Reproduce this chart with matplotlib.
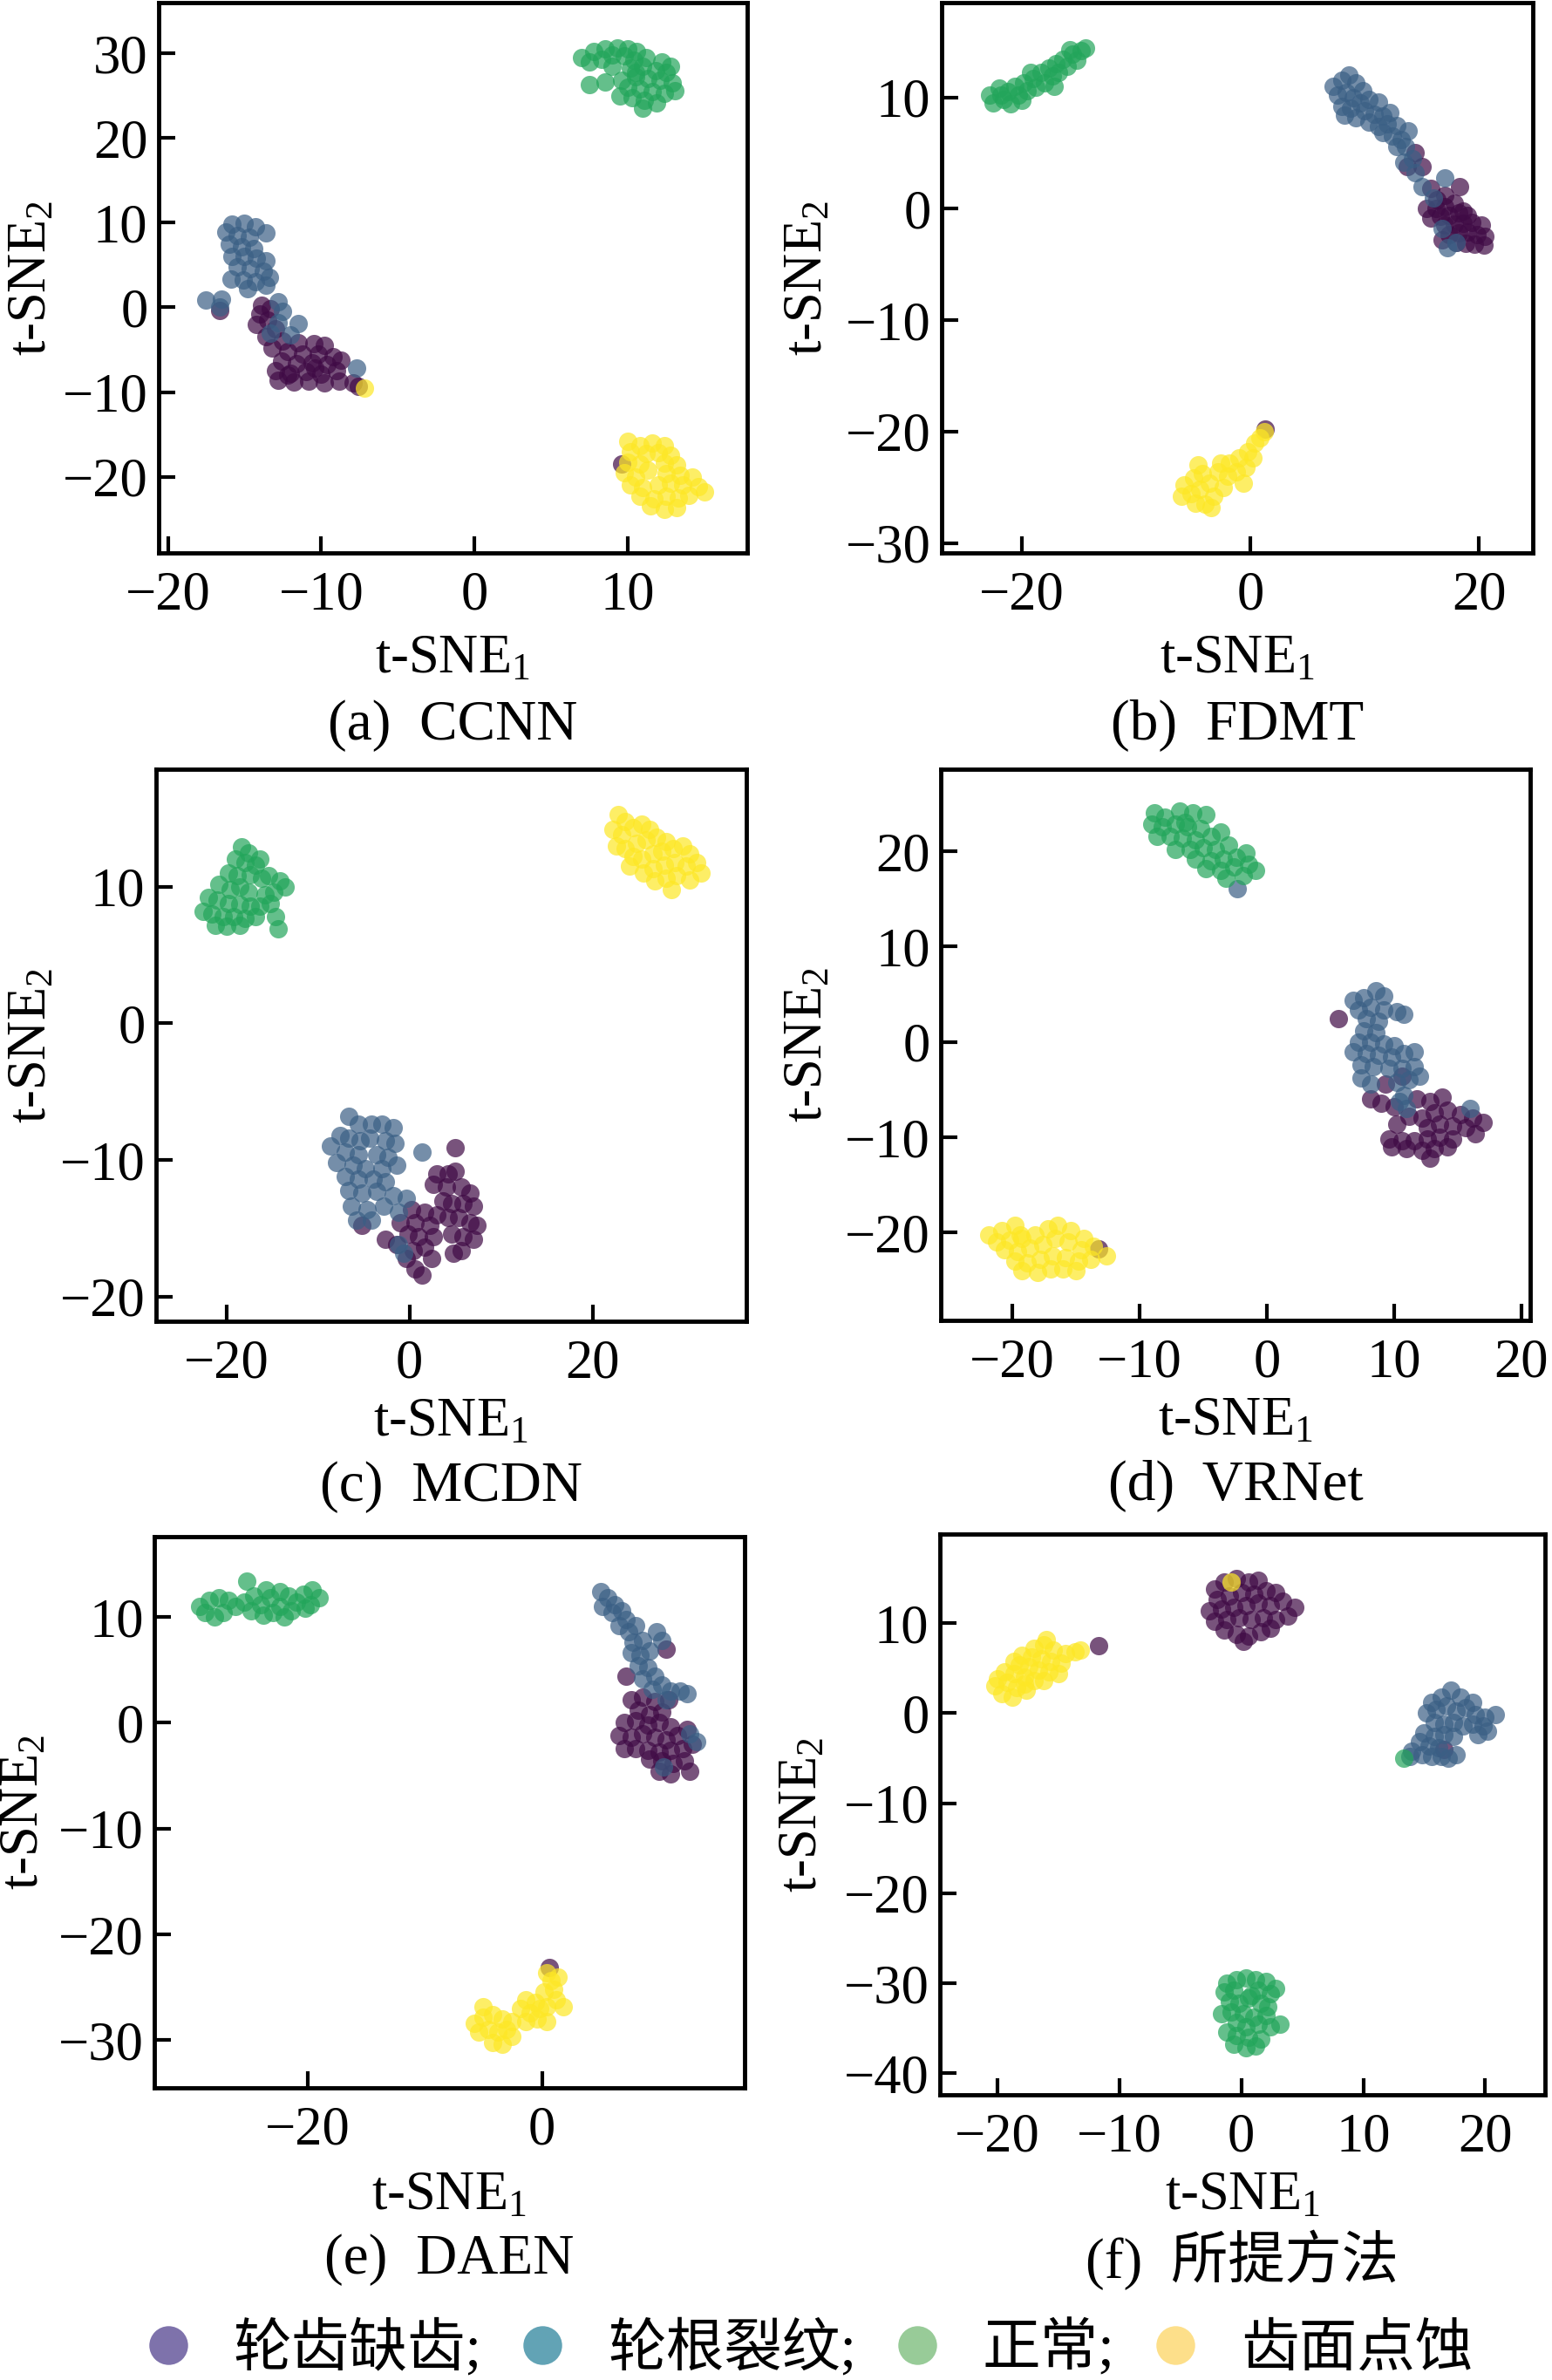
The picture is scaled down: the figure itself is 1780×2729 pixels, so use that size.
import numpy as np
import matplotlib
matplotlib.use('Agg')
import matplotlib.pyplot as plt
from matplotlib.lines import Line2D

# === Fonts: Times-like serif for latin text, CJK fallback for the Chinese labels ===
plt.rcParams['font.family'] = ['Liberation Serif', 'Noto Sans CJK SC']
plt.rcParams['mathtext.fontset'] = 'custom'
plt.rcParams['mathtext.rm'] = 'Liberation Serif'
plt.rcParams['mathtext.it'] = 'Liberation Serif:italic'

# === Class names and colours ===
class_names = ['轮齿缺齿;', '轮根裂纹;', '正常;', '齿面点蚀']
class_colors = ['#3f0a45', '#3a5f85', '#22a55a', '#fde725']
legend_colors = ['#7e72ab', '#62a3b5', '#98cb98', '#fddf8a']

# === t-SNE embeddings (x, y) ===
# (a) CCNN
CCNN_MISSING = [(-13.9, 0.3), (-13.3, -0.2), (-14.0, -0.8), (-13.5, -1.5), (-14.2, -2.0), (-13.0, -2.5),
                (-13.6, -3.5), (-12.5, -4.0), (-11.5, -4.2), (-10.5, -4.3), (-9.8, -4.5), (-13.2, -4.8),
                (-12.2, -5.2), (-11.2, -5.5), (-10.2, -5.5), (-9.2, -5.8), (-12.6, -6.3), (-11.6, -6.6),
                (-10.6, -6.5), (-9.6, -6.8), (-8.7, -6.2), (-13.0, -7.5), (-12.0, -7.8), (-11.0, -7.6),
                (-10.0, -7.9), (-9.0, -7.5), (-12.8, -8.6), (-11.8, -8.8), (-10.8, -8.7), (-9.8, -8.9),
                (-8.8, -8.7), (-12.2, -8.0), (-10.4, -7.2), (-7.9, -8.9), (-7.6, -9.3), (-16.6, -0.4),
                (9.6, -18.5)]
CCNN_CRACK = [(-15.8, 9.8), (-15.0, 9.9), (-14.3, 9.5), (-13.6, 8.8), (-16.2, 8.9), (-15.5, 8.5),
              (-14.7, 8.3), (-16.0, 7.5), (-15.2, 7.2), (-14.4, 7.0), (-15.8, 6.0), (-15.0, 6.0),
              (-14.2, 5.8), (-13.6, 5.5), (-15.5, 4.8), (-14.6, 4.6), (-13.8, 4.3), (-13.4, 3.5),
              (-15.9, 3.3), (-15.1, 3.2), (-14.3, 3.0), (-13.6, 2.6), (-14.8, 2.2), (-17.5, 0.9),
              (-16.5, 1.0), (-16.6, 0.1), (-12.8, 0.7), (-12.5, -0.5), (-11.5, -1.9), (-12.8, -1.8),
              (-13.3, -3.0), (-7.7, -7.2), (-12.0, -3.2)]
CCNN_NORMAL = [(7.0, 29.5), (7.8, 30.2), (8.5, 30.5), (9.3, 30.6), (10.0, 30.5), (10.6, 30.2), (11.2, 29.5),
               (7.5, 29.0), (8.3, 29.3), (9.0, 29.8), (9.8, 29.7), (10.4, 29.2), (12.2, 29.0), (10.2, 28.3),
               (11.0, 28.5), (11.8, 28.0), (12.5, 27.8), (10.5, 27.2), (11.3, 27.0), (12.1, 26.8), (12.9, 26.5),
               (10.0, 26.0), (10.8, 25.8), (11.6, 25.5), (12.4, 25.3), (13.1, 25.6), (9.5, 25.0), (10.3, 24.8),
               (11.1, 24.5), (11.9, 24.2), (11.0, 23.5), (10.5, 27.8), (9.6, 26.8), (12.8, 28.5),
               (7.5, 26.3), (8.5, 26.6), (9.0, 28.5)]
CCNN_PITTING = [(10.0, -15.8), (10.8, -16.3), (11.6, -16.0), (12.4, -16.3), (10.2, -17.0), (11.2, -17.3),
                (12.0, -17.2), (12.8, -17.5), (10.0, -18.3), (10.8, -18.5), (12.4, -18.4), (13.2, -18.6),
                (9.8, -19.5), (10.5, -20.0), (12.5, -19.6), (13.4, -19.8), (14.2, -20.0), (10.2, -21.0),
                (11.0, -21.3), (12.0, -21.0), (12.8, -20.8), (13.6, -21.0), (14.6, -21.2), (15.0, -21.8),
                (10.8, -22.3), (11.7, -22.6), (12.5, -22.3), (13.3, -22.5), (14.0, -22.2), (11.5, -23.4),
                (12.4, -23.8), (13.2, -23.6), (11.3, -19.2), (-7.2, -9.5)]

# (b) FDMT
FDMT_MISSING = [(14.4, 5.0), (13.7, 3.8), (15.0, 3.8), (18.3, 2.0), (15.8, 1.8), (16.3, 0.8), (17.0, 1.2),
                (15.4, 0.0), (16.2, 0.0), (17.0, 0.2), (17.8, 0.5), (15.8, -0.8), (16.6, -0.7), (17.4, -0.6),
                (18.2, -0.4), (19.0, -0.6), (17.0, -1.5), (17.8, -1.4), (18.6, -1.3), (19.4, -1.2), (20.2, -1.5),
                (17.4, -2.3), (18.2, -2.2), (19.0, -2.1), (19.8, -2.3), (20.5, -2.5), (18.0, -3.0), (18.8, -3.1),
                (19.6, -3.2), (20.4, -3.3), (16.8, -2.8), (18.6, -0.2), (1.3, -19.8)]
FDMT_CRACK = [(7.2, 11.0), (8.0, 11.5), (8.6, 12.0), (9.2, 11.3), (7.6, 10.2), (8.4, 10.4), (9.0, 10.0),
              (8.0, 9.2), (8.8, 9.0), (9.6, 9.5), (10.4, 9.8), (11.2, 9.6), (10.0, 8.8), (10.8, 8.5),
              (11.6, 8.3), (9.2, 8.2), (10.4, 7.8), (11.2, 7.4), (12.0, 7.6), (12.8, 7.5), (11.6, 6.8),
              (12.4, 6.5), (13.2, 6.2), (13.8, 7.0), (12.8, 5.6), (13.6, 5.6), (14.2, 4.5), (13.4, 4.2),
              (14.4, 3.2), (15.0, 2.0), (17.0, 2.8), (16.0, 1.0), (17.2, -3.5), (16.8, -1.8), (18.0, -3.0),
              (8.2, 8.4), (9.8, 10.6), (12.2, 8.6)]
FDMT_NORMAL = [(-22.8, 10.2), (-22.5, 9.5), (-22.0, 10.8), (-21.6, 9.8), (-21.2, 10.5), (-21.0, 9.4),
               (-20.6, 11.0), (-20.3, 10.2), (-19.8, 11.3), (-19.5, 10.6), (-19.0, 11.7), (-18.8, 10.9),
               (-18.3, 12.2), (-18.0, 11.3), (-17.6, 12.6), (-17.3, 11.9), (-17.0, 13.0), (-16.8, 12.2),
               (-16.4, 13.4), (-16.0, 12.8), (-15.6, 13.9), (-15.2, 13.3), (-14.8, 14.2), (-14.4, 14.4),
               (-15.8, 14.3), (-20.0, 9.7), (-17.2, 11.0), (-21.8, 10.2), (-19.2, 12.2)]
FDMT_PITTING = [(-5.8, -24.8), (-5.0, -24.2), (-4.2, -23.8), (-6.0, -25.8), (-5.2, -25.6), (-4.4, -25.2),
                (-3.6, -24.6), (-4.8, -26.4), (-4.0, -26.5), (-3.2, -25.8), (-2.4, -25.0), (-2.8, -23.6),
                (-2.0, -24.0), (-1.2, -23.6), (-1.8, -22.8), (-1.0, -22.4), (-0.4, -23.2), (-0.2, -21.8),
                (0.4, -21.0), (0.8, -20.6), (1.2, -20.0), (-2.6, -22.8), (-4.6, -23.0), (-3.4, -26.8),
                (-0.6, -24.6), (0.2, -22.4)]

# (c) MCDN
MCDN_MISSING = [(5.0, -9.1), (3.0, -11.0), (4.2, -11.0), (5.0, -10.8), (2.6, -11.8), (4.0, -12.0), (5.6, -12.0),
                (6.6, -12.4), (3.6, -13.0), (4.6, -13.2), (5.8, -13.2), (7.0, -13.4), (3.0, -14.0), (4.2, -14.2),
                (5.4, -14.2), (6.6, -14.6), (7.4, -14.8), (4.6, -15.4), (5.8, -15.6), (7.0, -15.8), (4.8, -16.8),
                (5.6, -16.6), (0.2, -13.6), (1.6, -13.8), (-1.0, -14.6), (0.6, -14.6), (2.2, -14.8),
                (-0.2, -15.4), (1.0, -15.6), (2.6, -15.6), (-2.6, -15.8), (-1.4, -16.2), (0.4, -16.6),
                (1.6, -16.4), (-0.4, -17.2), (2.4, -17.2), (0.6, -18.0), (1.4, -18.4), (-5.2, -14.8)]
MCDN_CRACK = [(-6.6, -6.8), (-5.6, -7.4), (-4.2, -7.4), (-3.0, -7.4), (-1.8, -7.6), (-7.6, -8.2), (-6.6, -8.4),
              (-5.4, -8.6), (-4.4, -8.4), (-2.6, -8.6), (-1.6, -8.8), (-8.6, -9.0), (-7.0, -9.4), (-5.6, -9.6),
              (-3.6, -9.6), (-2.4, -9.8), (1.4, -9.4), (-8.0, -10.2), (-6.2, -10.4), (-4.8, -10.6),
              (-3.0, -10.6), (-1.4, -10.4), (-7.0, -11.2), (-5.6, -11.4), (-4.0, -11.4), (-2.6, -11.6),
              (-6.6, -12.2), (-5.2, -12.4), (-3.6, -12.3), (-1.8, -12.6), (-0.4, -12.8), (-6.4, -13.4),
              (-4.6, -13.6), (-2.8, -13.4), (-1.2, -13.8), (-5.8, -14.4), (-4.2, -14.4), (-0.6, -16.8),
              (-1.2, -16.2)]
MCDN_NORMAL = [(-18.4, 12.9), (-17.6, 12.5), (-19.0, 12.0), (-18.0, 11.8), (-16.8, 11.6), (-19.8, 11.0),
               (-18.8, 10.8), (-17.4, 10.9), (-16.2, 10.6), (-15.4, 10.8), (-14.2, 10.4), (-13.6, 10.0),
               (-20.8, 10.2), (-19.6, 9.8), (-17.6, 9.6), (-15.8, 9.4), (-14.8, 9.6), (-22.0, 9.2),
               (-21.0, 9.0), (-19.8, 8.8), (-18.6, 8.7), (-17.4, 8.6), (-16.4, 8.6), (-15.2, 8.8),
               (-22.6, 8.2), (-21.6, 8.0), (-20.4, 7.8), (-19.2, 7.8), (-18.0, 7.7), (-16.8, 7.8),
               (-14.6, 7.8), (-21.2, 7.2), (-20.0, 7.1), (-18.6, 7.2), (-14.4, 6.9), (-18.6, 10.0),
               (-16.4, 12.0)]
MCDN_PITTING = [(22.8, 15.3), (23.6, 14.8), (22.2, 14.2), (23.2, 13.8), (24.4, 14.3), (25.4, 14.6), (26.2, 14.2),
                (22.6, 13.0), (23.6, 12.8), (24.8, 13.2), (25.8, 13.4), (27.0, 13.6), (28.0, 13.3), (24.4, 12.2),
                (25.4, 12.0), (26.6, 12.4), (27.6, 12.6), (28.8, 12.8), (29.8, 13.0), (30.6, 12.4), (25.6, 11.0),
                (26.6, 11.3), (27.8, 11.6), (29.0, 11.8), (30.2, 11.5), (31.4, 11.8), (31.8, 11.0), (26.8, 10.4),
                (28.0, 10.6), (29.2, 10.8), (30.6, 10.5), (28.6, 9.8), (24.0, 11.5)]

# (d) VRNet
VRNET_MISSING = [(5.6, 2.4), (9.3, -4.4), (10.6, -3.6), (8.2, -6.0), (9.0, -6.4), (10.0, -6.8), (11.8, -6.0),
                 (12.8, -6.2), (13.8, -5.8), (11.2, -7.8), (12.2, -8.0), (13.2, -7.4), (14.2, -7.2), (15.2, -7.6),
                 (16.2, -8.0), (17.0, -8.4), (10.2, -8.6), (12.6, -9.0), (13.6, -8.6), (14.6, -8.8), (15.6, -9.0),
                 (9.6, -10.2), (10.6, -10.4), (11.6, -10.4), (12.6, -10.2), (13.6, -10.0), (14.6, -10.2),
                 (9.8, -11.0), (11.0, -11.2), (12.2, -11.4), (13.2, -11.2), (14.2, -11.0), (12.8, -12.2),
                 (16.4, -9.6), (-13.2, -21.7)]
VRNET_CRACK = [(6.8, 4.4), (7.6, 4.6), (8.6, 5.4), (9.2, 4.8), (7.2, 3.4), (8.2, 3.6), (9.2, 3.4), (10.2, 3.2),
               (10.8, 2.9), (7.8, 2.4), (8.8, 2.2), (7.6, 1.2), (8.6, 1.0), (7.2, 0.0), (8.2, 0.0), (9.2, -0.2),
               (10.0, -0.4), (6.8, -1.0), (7.8, -1.2), (8.8, -1.4), (9.8, -1.6), (10.8, -1.2), (11.6, -1.0),
               (7.4, -2.4), (8.4, -2.6), (9.6, -2.8), (10.6, -2.8), (11.6, -2.6), (7.4, -3.8), (8.2, -4.4),
               (10.2, -4.2), (11.2, -4.0), (12.0, -3.6), (10.8, -5.6), (11.0, -7.0), (16.0, -7.0), (10.4, -6.2),
               (-2.3, 16.1)]
VRNET_NORMAL = [(-8.8, 24.0), (-8.0, 23.6), (-6.8, 24.2), (-5.8, 24.0), (-4.8, 23.8), (-9.0, 22.8), (-8.2, 22.6),
                (-7.2, 22.8), (-6.2, 22.6), (-5.2, 22.4), (-8.6, 21.6), (-7.6, 21.6), (-6.6, 21.4), (-5.6, 21.2),
                (-4.4, 21.6), (-3.6, 22.0), (-7.2, 20.2), (-6.0, 20.2), (-5.0, 20.4), (-4.0, 20.2), (-3.0, 20.6),
                (-5.6, 19.2), (-4.4, 19.0), (-3.4, 19.2), (-2.4, 19.4), (-1.6, 19.8), (-4.8, 18.2), (-3.6, 18.0),
                (-2.6, 18.4), (-1.4, 18.6), (-0.9, 18.0), (-3.2, 17.2), (-1.8, 17.4), (-6.4, 23.0)]
VRNET_PITTING = [(-21.8, -20.2), (-20.8, -19.8), (-19.8, -19.2), (-21.2, -21.0), (-20.2, -20.8), (-19.2, -20.6),
                 (-18.2, -20.2), (-17.2, -19.6), (-16.4, -19.2), (-15.4, -19.8), (-14.4, -20.6), (-20.6, -21.8),
                 (-19.6, -22.0), (-18.6, -21.6), (-17.6, -21.2), (-16.6, -20.6), (-15.6, -21.0), (-14.6, -21.8),
                 (-13.6, -21.4), (-12.6, -22.4), (-19.8, -23.0), (-18.8, -23.2), (-17.8, -22.8), (-16.8, -22.4),
                 (-15.8, -22.6), (-14.8, -23.0), (-13.8, -22.8), (-19.2, -24.0), (-18.0, -24.2), (-17.0, -23.8),
                 (-16.0, -23.8), (-15.0, -24.0), (-19.4, -20.2)]

# (e) DAEN
DAEN_MISSING = [(7.2, 4.4), (7.6, 2.2), (8.6, 2.4), (9.6, 2.0), (10.8, 2.2), (8.2, 1.2), (9.2, 0.8), (10.2, 1.0),
                (7.0, 0.0), (8.0, 0.2), (9.0, -0.2), (10.0, 0.0), (11.0, -0.4), (6.6, -1.2), (7.6, -1.4),
                (8.6, -1.0), (9.6, -1.4), (10.6, -1.6), (11.6, -1.2), (12.4, -0.6), (7.0, -2.4), (8.0, -2.4),
                (9.0, -2.6), (10.0, -2.8), (11.0, -2.6), (12.0, -2.4), (12.8, -2.0), (9.2, -3.4), (10.2, -3.6),
                (11.2, -3.8), (12.2, -3.6), (10.0, -4.6), (11.0, -4.8), (12.6, -4.6), (10.6, 7.0), (0.6, -23.1)]
DAEN_CRACK = [(5.0, 12.4), (5.6, 11.8), (6.2, 11.2), (5.2, 11.0), (6.0, 10.4), (6.8, 10.6), (7.2, 9.8),
              (6.6, 9.2), (7.4, 8.6), (8.0, 9.2), (9.8, 8.6), (10.2, 7.8), (7.8, 7.6), (8.6, 7.8), (7.6, 6.6),
              (8.4, 6.4), (9.2, 6.8), (8.2, 5.4), (9.0, 5.2), (9.6, 4.4), (8.6, 4.2), (10.2, 3.6), (9.4, 3.2),
              (11.0, 3.0), (11.8, 3.0), (12.4, 2.8), (10.6, 2.2), (13.2, -1.8), (12.6, -1.0), (10.4, -4.2)]
DAEN_NORMAL = [(-29.2, 11.0), (-28.4, 11.6), (-27.6, 11.8), (-26.8, 11.6), (-28.8, 10.4), (-28.0, 10.0),
               (-27.2, 10.4), (-26.2, 11.0), (-25.4, 11.4), (-24.6, 12.0), (-24.0, 11.2), (-24.8, 10.6),
               (-23.8, 10.2), (-23.0, 10.4), (-22.4, 11.0), (-23.2, 11.8), (-22.4, 12.4), (-21.6, 12.0),
               (-21.0, 11.4), (-20.4, 12.2), (-19.6, 12.6), (-19.0, 11.8), (-21.4, 10.6), (-20.2, 10.8),
               (-25.2, 13.4), (-23.6, 12.6), (-22.0, 10.0), (-19.8, 11.2)]
DAEN_PITTING = [(-5.8, -28.4), (-5.0, -27.8), (-4.2, -27.6), (-3.4, -28.0), (-5.4, -29.2), (-4.6, -29.0),
                (-3.8, -29.2), (-3.0, -29.0), (-4.2, -30.2), (-3.4, -30.4), (-2.6, -29.6), (-2.6, -28.2),
                (-1.8, -27.0), (-1.0, -27.4), (-0.2, -27.0), (-1.4, -26.2), (-0.6, -26.4), (0.4, -26.8),
                (1.2, -26.2), (1.8, -26.8), (0.2, -25.4), (1.0, -25.2), (0.8, -24.4), (1.4, -24.0),
                (0.4, -23.6), (-0.4, -28.0), (-5.0, -26.8), (-1.4, -28.2), (0.4, -28.2)]

# (f) proposed method
OURS_MISSING = [(-2.2, 13.8), (-1.4, 14.6), (-0.4, 15.0), (0.6, 14.6), (1.4, 14.8), (-2.0, 12.6), (-1.0, 13.0),
                (0.0, 13.4), (1.0, 13.2), (2.0, 13.6), (2.8, 13.4), (-2.6, 11.4), (-1.6, 11.6), (-0.6, 11.8),
                (0.4, 12.0), (1.4, 12.2), (2.4, 12.0), (3.4, 12.4), (4.4, 11.8), (-2.2, 10.2), (-1.2, 10.4),
                (-0.2, 10.6), (0.8, 10.4), (1.8, 10.6), (2.8, 10.4), (3.8, 10.8), (-1.4, 9.2), (-0.4, 8.8),
                (0.6, 8.6), (1.6, 9.0), (0.2, 8.0), (2.4, 9.4), (-11.7, 7.5), (16.6, -4.0)]
OURS_CRACK = [(15.6, 1.2), (16.4, 1.8), (17.2, 2.6), (18.0, 1.8), (19.0, 1.2), (15.2, 0.0), (16.0, 0.4),
              (16.8, 0.8), (17.6, 0.2), (18.4, 0.6), (19.2, -0.2), (20.0, -0.4), (20.8, -0.2), (15.8, -1.0),
              (16.6, -1.2), (17.4, -1.0), (18.2, -1.4), (19.0, -1.2), (19.8, -1.4), (20.2, -2.0), (15.0, -2.2),
              (15.8, -2.6), (16.6, -2.4), (17.4, -2.6), (14.6, -3.2), (15.4, -3.6), (16.2, -3.8), (14.0, -4.2),
              (14.8, -4.6), (15.6, -4.8), (16.4, -4.8), (17.0, -5.0), (13.8, -4.8), (17.6, -4.6), (19.4, -2.4)]
OURS_NORMAL = [(-1.2, -30.0), (-0.4, -29.6), (0.4, -29.4), (1.2, -29.6), (2.0, -29.8), (-1.4, -31.0),
               (-0.6, -30.8), (1.4, -30.8), (2.4, -31.2), (2.8, -30.6), (-1.0, -32.0), (-0.2, -32.2),
               (0.6, -31.6), (1.6, -32.2), (2.2, -32.6), (-1.6, -33.4), (-0.8, -33.2), (0.2, -33.4),
               (1.0, -33.8), (2.0, -33.6), (-0.4, -34.4), (0.4, -34.8), (1.4, -34.6), (2.4, -34.8),
               (3.2, -34.6), (-1.2, -35.4), (-0.4, -35.8), (0.6, -36.0), (1.6, -36.2), (-0.6, -36.8),
               (0.4, -37.2), (1.2, -37.0), (0.8, -31.4), (13.3, -5.0)]
OURS_PITTING = [(-20.2, 3.0), (-19.6, 2.2), (-18.8, 1.8), (-20.0, 3.8), (-19.2, 3.4), (-18.4, 2.8), (-17.6, 2.6),
                (-19.4, 4.6), (-18.6, 4.4), (-17.8, 4.0), (-17.0, 3.6), (-16.2, 3.6), (-18.2, 5.4), (-17.4, 5.2),
                (-16.6, 4.8), (-15.8, 4.6), (-15.0, 4.4), (-18.0, 6.4), (-17.2, 6.2), (-16.4, 6.0), (-15.6, 5.8),
                (-14.8, 5.6), (-17.0, 7.2), (-16.2, 7.6), (-15.4, 7.0), (-14.4, 6.6), (-13.6, 6.8), (-13.2, 7.0),
                (-16.0, 8.2), (-18.6, 5.8), (-17.8, 3.2), (-0.8, 14.6)]

panel_titles = ['(a)  CCNN', '(b)  FDMT', '(c)  MCDN', '(d)  VRNet', '(e)  DAEN', '(f)  所提方法']
panel_data = [
    [CCNN_MISSING, CCNN_CRACK, CCNN_NORMAL, CCNN_PITTING],
    [FDMT_MISSING, FDMT_CRACK, FDMT_NORMAL, FDMT_PITTING],
    [MCDN_MISSING, MCDN_CRACK, MCDN_NORMAL, MCDN_PITTING],
    [VRNET_MISSING, VRNET_CRACK, VRNET_NORMAL, VRNET_PITTING],
    [DAEN_MISSING, DAEN_CRACK, DAEN_NORMAL, DAEN_PITTING],
    [OURS_MISSING, OURS_CRACK, OURS_NORMAL, OURS_PITTING],
]
panel_xticks = [[-20, -10, 0, 10], [-20, 0, 20], [-20, 0, 20],
                [-20, -10, 0, 10, 20], [-20, 0], [-20, -10, 0, 10, 20]]
panel_yticks = [[-20, -10, 0, 10, 20, 30], [-30, -20, -10, 0, 10], [-20, -10, 0, 10],
                [-20, -10, 0, 10, 20], [-30, -20, -10, 0, 10], [-40, -30, -20, -10, 0, 10]]

# === Layout (pixels of the 1781 x 2729 canvas) ===
W, H = 1781, 2729
# left, right, top, bottom of each axes box
boxes_px = [(182, 857, 3, 634), (1080, 1758, 3, 634),
            (179, 856, 882, 1515), (1079, 1755, 882, 1514),
            (177, 854, 1762, 2394), (1078, 1772, 1759, 2402)]
xlims = [(-20.6, 17.8), (-27.0, 24.7), (-27.7, 36.8), (-25.6, 20.7), (-33.1, 17.3), (-24.7, 24.9)]
ylims = [(-29.0, 36.0), (-30.9, 18.5), (-21.8, 18.6), (-29.2, 28.6), (-34.5, 17.6), (-42.4, 19.9)]
ylabel_off = [145, 153, 142, 152, 149, 157]     # px left of the spine
xlabel_off = [122, 122, 116, 116, 124, 116]     # px below the spine
caption_off = [198, 198, 190, 190, 197, 189]

FS = 45

fig = plt.figure(figsize=(W / 100, H / 100), dpi=100)

for i in range(6):
    l, r, t, b = boxes_px[i]
    ax = fig.add_axes([l / W, 1 - b / H, (r - l) / W, (b - t) / H])
    for pts, col in zip(panel_data[i], class_colors):
        arr = np.array(pts)
        ax.scatter(arr[:, 0], arr[:, 1], s=230, c=col, alpha=0.7, linewidths=0)

    ax.set_xlim(*xlims[i])
    ax.set_ylim(*ylims[i])
    ax.set_xticks(panel_xticks[i])
    ax.set_yticks(panel_yticks[i])
    ax.tick_params(direction='in', length=14, width=3, labelsize=FS, top=False, right=False)
    ax.tick_params(axis='x', pad=15)
    ax.tick_params(axis='y', pad=9)
    for sp in ax.spines.values():
        sp.set_linewidth(3.5)

    ax.set_xlabel('t-SNE$_1$', fontsize=FS)
    ax.xaxis.set_label_coords(0.5, -xlabel_off[i] / (b - t))
    ax.xaxis.label.set_va('center')
    ax.set_ylabel('t-SNE$_2$', fontsize=FS)
    ax.yaxis.set_label_coords(-ylabel_off[i] / (r - l), 0.5)
    ax.yaxis.label.set_va('center')

    ax.text(0.5, -caption_off[i] / (b - t), panel_titles[i], transform=ax.transAxes,
            ha='center', va='center', fontsize=FS + 2)

# === Shared legend along the bottom ===
handles = [Line2D([], [], marker='o', linestyle='', markersize=32, color=c, markeredgewidth=0)
           for c in legend_colors]
fig.legend(handles, class_names, loc='center', bbox_to_anchor=(0.519, 1 - 2693 / H), ncol=4,
           frameon=False, fontsize=FS + 3, handlelength=1.0, handletextpad=0.62,
           columnspacing=0.55, borderpad=0, borderaxespad=0)

fig.savefig('out.png', dpi=100)
